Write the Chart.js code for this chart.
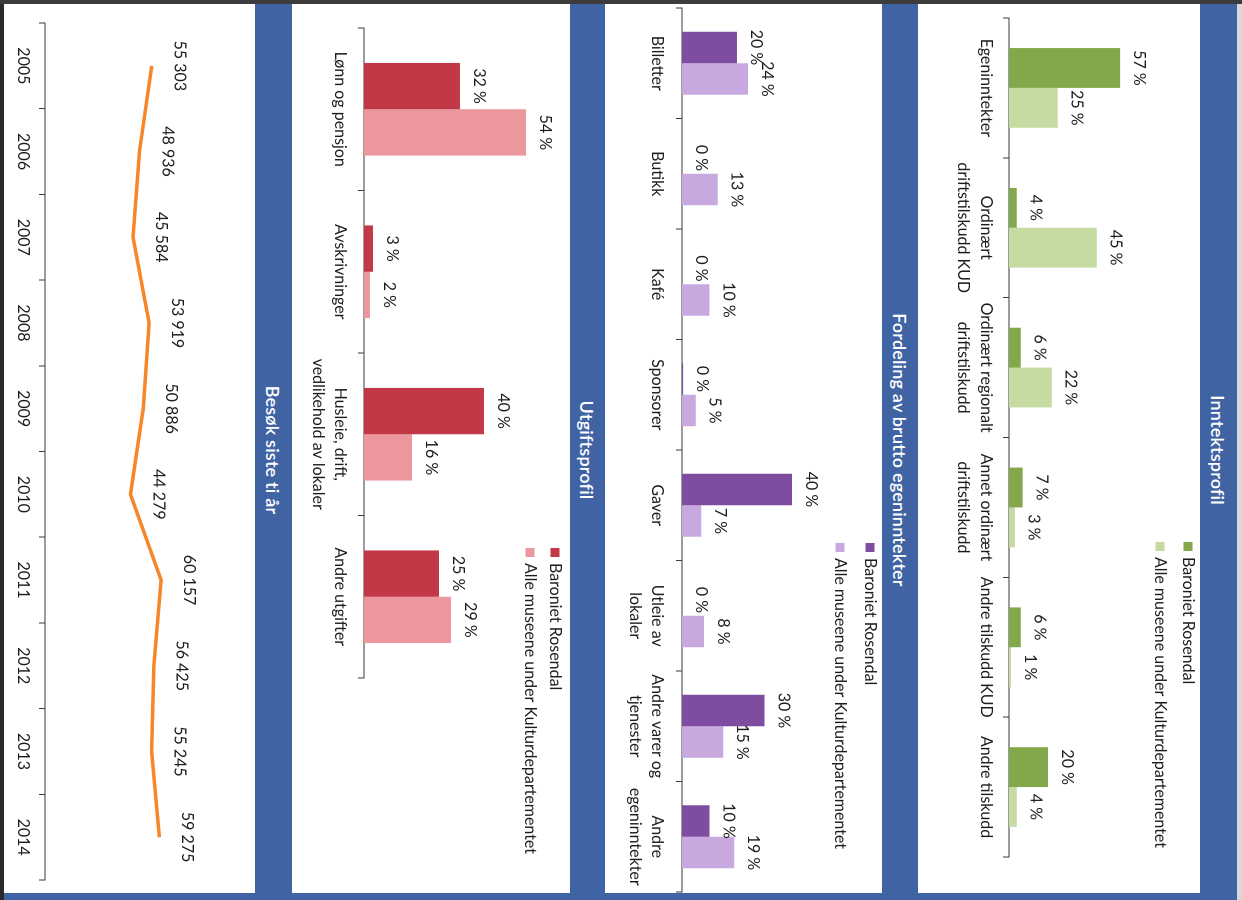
<!DOCTYPE html>
<html>
<head>
<meta charset="utf-8">
<script src="https://cdn.jsdelivr.net/npm/chart.js@4.4.1/dist/chart.umd.min.js"></script>
<style>
html,body{margin:0;padding:0;width:1242px;height:900px;overflow:hidden;background:#fff;}
#page{position:absolute;left:0;top:0;width:900px;height:1242px;transform-origin:0 0;
  transform:translate(1242px,0) rotate(90deg);background:#3f63a3;font-family:Lato,"Open Sans",sans-serif;}
.edge{position:absolute;}
.panel{position:absolute;left:4px;width:889px;background:#fff;}
.title{position:absolute;left:0;width:900px;color:#fff;font-family:Lato,sans-serif;font-weight:600;font-size:18px;
  display:flex;align-items:center;justify-content:center;letter-spacing:0.2px;}
canvas{position:absolute;left:0;}
</style>
</head>
<body>
<div id="page">
  <div class="edge" style="left:0;top:0;width:900px;height:5px;background:#d9d9d9"></div>
  <div class="edge" style="left:0;top:1238px;width:900px;height:4px;background:#2a2a2a"></div>

  <div class="title" style="top:5px;height:37px">Inntektsprofil</div>
  <div class="panel" style="top:42px;height:282px"></div>
  <canvas id="c1" width="900" height="282" style="top:42px"></canvas>

  <div class="title" style="top:324px;height:36px">Fordeling av brutto egeninntekter</div>
  <div class="panel" style="top:360px;height:277px"></div>
  <canvas id="c2" width="900" height="277" style="top:360px"></canvas>

  <div class="title" style="top:637px;height:35px">Utgiftsprofil</div>
  <div class="panel" style="top:672px;height:278px"></div>
  <canvas id="c3" width="900" height="278" style="top:672px"></canvas>

  <div class="title" style="top:950px;height:37px">Besøk siste ti år</div>
  <div class="panel" style="top:987px;height:251px"></div>
  <canvas id="c4" width="900" height="251" style="top:987px"></canvas>

  <div class="edge" style="left:0;top:0;width:4px;height:1242px;background:#3c3c3c"></div>
</div>

<script>
// ---------- DATA ----------
const seriesNames = ["Baroniet Rosendal", "Alle museene under Kulturdepartementet"];

const incomeCategories = ["Egeninntekter", ["Ordinært", "driftstilskudd KUD"], ["Ordinært regionalt", "driftstilskudd"],
  ["Annet ordinært", "driftstilskudd"], "Andre tilskudd KUD", "Andre tilskudd"];
const incomeBaroniet = [57, 4, 6, 7, 6, 20];
const incomeAlle = [25, 45, 22, 3, 1, 4];

const earnedCategories = ["Billetter", "Butikk", "Kafé", "Sponsorer", "Gaver", ["Utleie av", "lokaler"],
  ["Andre varer og", "tjenester"], ["Andre", "egeninntekter"]];
const earnedBaroniet = [20, 0, 0, 0.4, 40, 0, 30, 10];
const earnedAlle = [24, 13, 10, 5, 7, 8, 15, 19];

const costCategories = ["Lønn og pensjon", "Avskrivninger", ["Husleie, drift,", "vedlikehold av lokaler"], "Andre utgifter"];
const costBaroniet = [32, 3, 40, 25];
const costAlle = [54, 2, 16, 29];

const visitYears = ["2005", "2006", "2007", "2008", "2009", "2010", "2011", "2012", "2013", "2014"];
const visits = [55303, 48936, 45584, 53919, 50886, 44279, 60157, 56425, 55245, 59275];

// ---------- STYLE ----------
Chart.defaults.font.family = "Lato, 'Open Sans', sans-serif";
Chart.defaults.font.size = 16;
Chart.defaults.color = "#1c1c1c";
const AXIS = "#3a3a3a";

const valueLabels = {
  id: "valueLabels",
  afterDatasetsDraw(chart, args, opts) {
    const ctx = chart.ctx;
    ctx.save();
    ctx.font = "16px Lato, 'Open Sans', sans-serif";
    ctx.fillStyle = "#1c1c1c";
    ctx.textAlign = "center";
    ctx.textBaseline = "middle";
    chart.data.datasets.forEach((ds, i) => {
      chart.getDatasetMeta(i).data.forEach((el, j) => {
        ctx.fillText(opts.format(ds.data[j]), el.x, el.y - opts.offset);
      });
    });
    ctx.restore();
  }
};

const stackLegend = {
  id: "stackLegend",
  afterDraw(chart, args, opts) {
    if (!opts || !opts.show) return;
    const ctx = chart.ctx;
    ctx.save();
    ctx.font = "16px Lato, 'Open Sans', sans-serif";
    ctx.textBaseline = "middle";
    ctx.textAlign = "left";
    chart.data.datasets.forEach((ds, i) => {
      const cy = opts.y + i * opts.rowGap;
      ctx.fillStyle = ds.backgroundColor;
      ctx.fillRect(opts.x, cy - opts.box / 2, opts.box, opts.box);
      ctx.fillStyle = "#1c1c1c";
      ctx.fillText(ds.label, opts.x + opts.box + 6, cy);
    });
    ctx.restore();
  }
};

function pct(v) { return Math.round(v) + " %"; }
function spaced(v) { return String(v).replace(/\B(?=(\d{3})+(?!\d))/g, " "); }

function barChart(id, cats, a, b, colA, colB, cfg) {
  return new Chart(document.getElementById(id), {
    type: "bar",
    data: {
      labels: cats,
      datasets: [
        { label: seriesNames[0], data: a, backgroundColor: colA },
        { label: seriesNames[1], data: b, backgroundColor: colB }
      ]
    },
    options: {
      responsive: false,
      devicePixelRatio: 2,
      animation: false,
      events: [],
      layout: { padding: { left: cfg.left, right: cfg.right, top: cfg.top, bottom: 0 } },
      datasets: { bar: { categoryPercentage: 0.57, barPercentage: 1.0 } },
      scales: {
        x: {
          offset: true,
          grid: { offset: true, drawOnChartArea: false, drawTicks: true, tickLength: 6, color: AXIS },
          border: { display: true, color: AXIS, width: 1 },
          ticks: { autoSkip: false, maxRotation: 0, minRotation: 0, padding: cfg.tickPad,
                    font: { size: 16, lineHeight: cfg.lineH } },
          afterFit(scale) { scale.height = cfg.scaleH; }
        },
        y: { display: false, min: 0, max: cfg.max }
      },
      plugins: {
        legend: { display: false },
        tooltip: { enabled: false },
        valueLabels: { offset: 19, format: pct },
        stackLegend: { show: true, x: cfg.legX, y: cfg.legY, rowGap: cfg.legGap, box: 9 }
      }
    },
    plugins: [valueLabels, stackLegend]
  });
}

barChart("c1", incomeCategories, incomeBaroniet, incomeAlle, "#82a84b", "#c6dba2",
  { left: 18, right: 43, top: 15.5, max: 90, scaleH: 91, tickPad: 5.5, lineH: 23 / 16,
    legX: 542, legY: 12, legGap: 28 });

barChart("c2", earnedCategories, earnedBaroniet, earnedAlle, "#7e4ca1", "#c7a9e0",
  { left: 8, right: 8, top: 7.5, max: 70, scaleH: 77, tickPad: 8, lineH: 22 / 16,
    legX: 543, legY: 12, legGap: 30 });

barChart("c3", costCategories, costBaroniet, costAlle, "#c23847", "#ec979d",
  { left: 28, right: 222, top: 11, max: 65, scaleH: 72, tickPad: 7, lineH: 22 / 16,
    legX: 548, legY: 15, legGap: 25 });

new Chart(document.getElementById("c4"), {
  type: "line",
  data: {
    labels: visitYears,
    datasets: [{ label: "Besøk", data: visits, borderColor: "#f5862a", borderWidth: 3.5,
                 pointRadius: 0, tension: 0, fill: false }]
  },
  options: {
    responsive: false,
    devicePixelRatio: 2,
    animation: false,
    events: [],
    layout: { padding: { left: 23, right: 20, top: 17, bottom: 0 } },
    scales: {
      x: {
        type: "category",
        offset: true,
        grid: { offset: true, drawOnChartArea: false, drawTicks: true, tickLength: 6, color: AXIS },
        border: { display: true, color: AXIS, width: 1 },
        ticks: { autoSkip: false, maxRotation: 0, minRotation: 0, padding: 6.4, font: { size: 16, lineHeight: 1.2 } },
        afterFit(scale) { scale.height = 41; }
      },
      y: { display: false, min: 0, max: 100000 }
    },
    plugins: {
      legend: { display: false },
      tooltip: { enabled: false },
      valueLabels: { offset: 28, format: spaced },
      stackLegend: { show: false }
    }
  },
  plugins: [valueLabels, stackLegend]
});
</script>
</body>
</html>
